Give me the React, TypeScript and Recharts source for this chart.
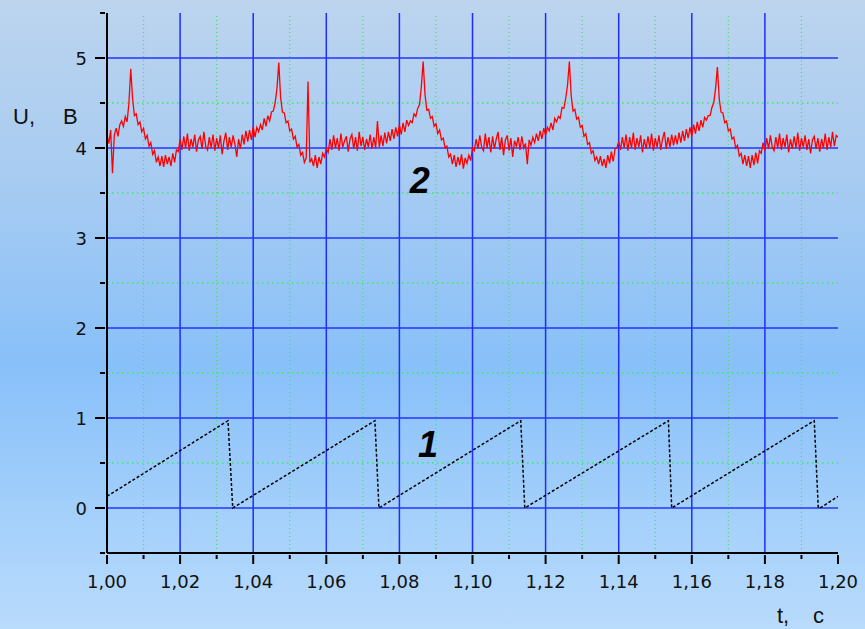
import React from 'react';
import { LineChart, Line, XAxis, YAxis, ReferenceLine, ReferenceDot } from 'recharts';

// Signal 2 (red), sampled every 0.0005 s starting at t = 1.00 s
const signalStart = 1.0;
const signalStep = 0.0005;
const signalValues = [
  4.15, 4.05, 4.20, 3.72, 4.14, 4.22, 4.13, 4.26, 4.30, 4.24, 4.35, 4.29, 4.50, 4.88, 4.55, 4.36, 4.38, 4.26, 4.29, 4.18,
  4.22, 4.10, 4.14, 4.02, 4.06, 3.93, 3.97, 3.84, 3.90, 3.80, 3.91, 3.79, 3.92, 3.82, 3.90, 3.80, 3.94, 3.84, 3.98, 3.96,
  4.10, 3.98, 4.13, 4.00, 4.16, 3.97, 4.10, 4.01, 4.15, 3.96, 4.09, 4.13, 3.99, 4.18, 4.02, 3.98, 4.12, 4.00, 4.15, 3.97,
  4.11, 4.00, 4.14, 3.93, 4.08, 4.17, 3.98, 4.12, 4.01, 4.14, 4.04, 3.90, 4.10, 3.99, 4.15, 4.04, 4.19, 4.07, 4.20, 4.09,
  4.24, 4.12, 4.23, 4.18, 4.26, 4.20, 4.33, 4.24, 4.36, 4.30, 4.40, 4.41, 4.50, 4.66, 4.95, 4.56, 4.40, 4.39, 4.28, 4.30,
  4.19, 4.21, 4.10, 4.13, 4.01, 4.04, 3.92, 3.95, 3.84, 3.89, 4.74, 3.84, 3.88, 3.80, 3.92, 3.78, 3.90, 3.82, 3.94, 3.90,
  3.99, 3.95, 4.10, 3.98, 4.14, 4.00, 4.11, 3.97, 4.16, 4.01, 4.08, 4.13, 3.96, 4.10, 4.15, 3.99, 4.12, 3.97, 4.18, 4.02,
  4.12, 3.98, 4.10, 4.01, 4.15, 3.99, 4.12, 4.00, 4.30, 4.01, 4.14, 4.02, 4.17, 4.05, 4.18, 4.08, 4.21, 4.10, 4.23, 4.13,
  4.26, 4.15, 4.28, 4.18, 4.31, 4.25, 4.30, 4.28, 4.38, 4.35, 4.44, 4.48, 4.68, 4.96, 4.60, 4.42, 4.43, 4.33, 4.35, 4.24,
  4.27, 4.16, 4.20, 4.09, 4.11, 4.00, 4.02, 3.90, 3.93, 3.82, 3.92, 3.79, 3.90, 3.81, 3.93, 3.77, 3.89, 3.83, 3.92, 3.86,
  4.00, 3.97, 4.10, 3.99, 4.14, 4.01, 3.97, 4.16, 4.00, 4.12, 3.95, 4.13, 3.99, 4.10, 4.18, 3.98, 4.12, 3.92, 4.09, 4.14,
  3.97, 4.11, 3.90, 4.08, 4.02, 4.12, 3.98, 4.13, 4.00, 4.05, 3.82, 4.09, 4.03, 4.12, 4.06, 4.16, 4.08, 4.19, 4.10, 4.22,
  4.14, 4.23, 4.19, 4.28, 4.20, 4.33, 4.29, 4.35, 4.33, 4.45, 4.44, 4.55, 4.70, 4.96, 4.58, 4.41, 4.43, 4.32, 4.34, 4.23,
  4.25, 4.13, 4.16, 4.04, 4.06, 3.94, 3.97, 3.86, 3.90, 3.82, 3.91, 3.80, 3.88, 3.78, 3.92, 3.83, 3.96, 3.85, 3.99, 4.00,
  4.07, 3.98, 4.12, 4.00, 4.15, 3.97, 4.12, 4.00, 4.17, 3.98, 4.11, 4.01, 4.14, 3.95, 4.10, 3.99, 4.13, 4.00, 4.16, 3.97,
  4.11, 4.01, 4.14, 3.98, 4.10, 4.18, 3.99, 4.12, 4.01, 4.15, 4.03, 4.14, 4.04, 4.17, 4.06, 4.19, 4.08, 4.21, 4.11, 4.23,
  4.13, 4.26, 4.16, 4.29, 4.19, 4.31, 4.23, 4.34, 4.31, 4.36, 4.36, 4.45, 4.50, 4.66, 4.90, 4.55, 4.40, 4.39, 4.28, 4.30,
  4.19, 4.21, 4.10, 4.12, 4.00, 4.03, 3.91, 3.94, 3.82, 3.92, 3.80, 3.91, 3.78, 3.92, 3.81, 3.95, 3.83, 3.97, 3.94, 4.06,
  3.97, 4.11, 3.99, 4.14, 4.01, 3.97, 4.12, 4.00, 4.16, 3.98, 4.11, 4.01, 4.15, 3.95, 4.10, 3.99, 4.13, 4.00, 4.17, 3.97,
  4.11, 4.01, 4.14, 3.98, 4.10, 3.94, 4.09, 4.13, 3.99, 4.11, 3.96, 4.10, 4.00, 4.16, 3.98, 4.12, 4.01, 4.18, 4.02, 4.14,
  4.12,
];

// Sawtooth 1 (black dashed)
const sawTimes = [1.0, 1.0331, 1.0344, 1.0733, 1.0744, 1.1132, 1.1143, 1.1536, 1.1545, 1.1935, 1.1946, 1.1955, 1.2];
const sawValues = [0.13, 0.97, 0.0, 0.97, 0.0, 0.97, 0.0, 0.97, 0.0, 0.97, 0.0, 0.01, 0.13];

const xMajorTicks = [1.0, 1.02, 1.04, 1.06, 1.08, 1.1, 1.12, 1.14, 1.16, 1.18, 1.2];
const xTickLabels = ['1,00', '1,02', '1,04', '1,06', '1,08', '1,10', '1,12', '1,14', '1,16', '1,18', '1,20'];
const xMinorTicks = [1.01, 1.03, 1.05, 1.07, 1.09, 1.11, 1.13, 1.15, 1.17, 1.19];
const yMajorTicks = [0, 1, 2, 3, 4, 5];
const yTickLabels = ['0', '1', '2', '3', '4', '5'];
const yMinorTicks = [-0.5, 0.5, 1.5, 2.5, 3.5, 4.5, 5.5];

const xGridMajor = [1.02, 1.04, 1.06, 1.08, 1.1, 1.12, 1.14, 1.16, 1.18];
const yGridMinor = [0.5, 1.5, 2.5, 3.5, 4.5];

const signalData = signalValues.map((v, i) => ({ t: +(signalStart + i * signalStep).toFixed(4), u: v }));
const sawData = sawTimes.map((t, i) => ({ t, u: sawValues[i] }));

const allXTicks = [...xMajorTicks, ...xMinorTicks].sort((a, b) => a - b);
const allYTicks = [...yMajorTicks, ...yMinorTicks].sort((a, b) => a - b);

const near = (a: number, b: number) => Math.abs(a - b) < 1e-6;
const tickFont = '"DejaVu Sans", sans-serif';
const labelFont = '"Liberation Sans", Arial, sans-serif';

const XTick = (props: any) => {
  const { x, y, payload } = props;
  const idx = xMajorTicks.findIndex((m) => near(m, payload.value));
  const major = idx >= 0;
  return (
    <g>
      <line x1={x} x2={x} y1={y} y2={y + (major ? 9 : 4)} stroke="#000" strokeWidth={2} />
      {major && (
        <text x={x} y={y + 33} textAnchor="middle" fontFamily={tickFont} fontSize={18} fill="#111">
          {xTickLabels[idx]}
        </text>
      )}
    </g>
  );
};

const YTick = (props: any) => {
  const { x, y, payload } = props;
  const idx = yMajorTicks.findIndex((m) => near(m, payload.value));
  const major = idx >= 0;
  return (
    <g>
      <line x1={x} x2={x - (major ? 10 : 5)} y1={y} y2={y} stroke="#000" strokeWidth={2} />
      {major && (
        <text x={x - 18} y={y + 7} textAnchor="end" fontFamily={tickFont} fontSize={18} fill="#111">
          {yTickLabels[idx]}
        </text>
      )}
    </g>
  );
};

const CurveLabel = (text: string) => (p: any) => (
  <text
    x={p.cx}
    y={p.cy}
    textAnchor="middle"
    dominantBaseline="central"
    fontFamily={labelFont}
    fontWeight="bold"
    fontStyle="italic"
    fontSize={36}
    fill="#000"
  >
    {text}
  </text>
);

export default function App() {
  return (
    <div
      style={{
        position: 'absolute',
        left: 0,
        top: 0,
        width: 865,
        height: 629,
        overflow: 'hidden',
        background: 'linear-gradient(180deg, #bcd4ee 0%, #a6cbf2 30%, #88c0f9 58%, #a4d0fb 82%, #b9dbfc 100%)',
      }}
    >
      <LineChart width={865} height={629} margin={{ top: 13, right: 27, bottom: 46, left: 47 }}>
        <XAxis
          dataKey="t"
          type="number"
          domain={[1.0, 1.2]}
          allowDataOverflow
          ticks={allXTicks}
          interval={0}
          tick={<XTick />}
          tickLine={false}
          tickSize={0}
          height={30}
          axisLine={{ stroke: '#000', strokeWidth: 2 }}
        />
        <YAxis
          type="number"
          domain={[-0.5, 5.5]}
          allowDataOverflow
          ticks={allYTicks}
          interval={0}
          tick={<YTick />}
          tickLine={false}
          tickSize={0}
          width={60}
          axisLine={{ stroke: '#000', strokeWidth: 2 }}
        />
        {xMinorTicks.map((v) => (
          <ReferenceLine key={'xm' + v} x={v} stroke="#3ee45a" strokeWidth={1.2} strokeDasharray="1 3" />
        ))}
        {yGridMinor.map((v) => (
          <ReferenceLine key={'ym' + v} y={v} stroke="#34ee58" strokeWidth={1.6} strokeDasharray="1.5 3.5" />
        ))}
        {xGridMajor.map((v) => (
          <ReferenceLine key={'xM' + v} x={v} stroke="#1f2cff" strokeWidth={1.5} />
        ))}
        {yMajorTicks.map((v) => (
          <ReferenceLine key={'yM' + v} y={v} stroke="#2535ff" strokeWidth={1.5} />
        ))}
        <Line
          data={sawData}
          dataKey="u"
          type="linear"
          dot={false}
          stroke="#000"
          strokeWidth={1.5}
          strokeDasharray="3 2"
          isAnimationActive={false}
        />
        <Line
          data={signalData}
          dataKey="u"
          type="linear"
          dot={false}
          stroke="#ff0000"
          strokeWidth={1.3}
          isAnimationActive={false}
        />
        <ReferenceDot x={1.0856} y={3.64} r={0} shape={CurveLabel('2')} />
        <ReferenceDot x={1.0878} y={0.71} r={0} shape={CurveLabel('1')} />
      </LineChart>
      <div
        style={{
          position: 'absolute',
          left: 13,
          top: 104,
          fontFamily: labelFont,
          fontSize: 22,
          color: '#111',
          whiteSpace: 'pre',
        }}
      >
        <span>U,</span>
        <span style={{ position: 'absolute', left: 50 }}>B</span>
      </div>
      <div
        style={{
          position: 'absolute',
          left: 777,
          top: 603,
          fontFamily: labelFont,
          fontSize: 22,
          color: '#111',
          whiteSpace: 'pre',
        }}
      >
        <span>t,</span>
        <span style={{ position: 'absolute', left: 36 }}>c</span>
      </div>
    </div>
  );
}
